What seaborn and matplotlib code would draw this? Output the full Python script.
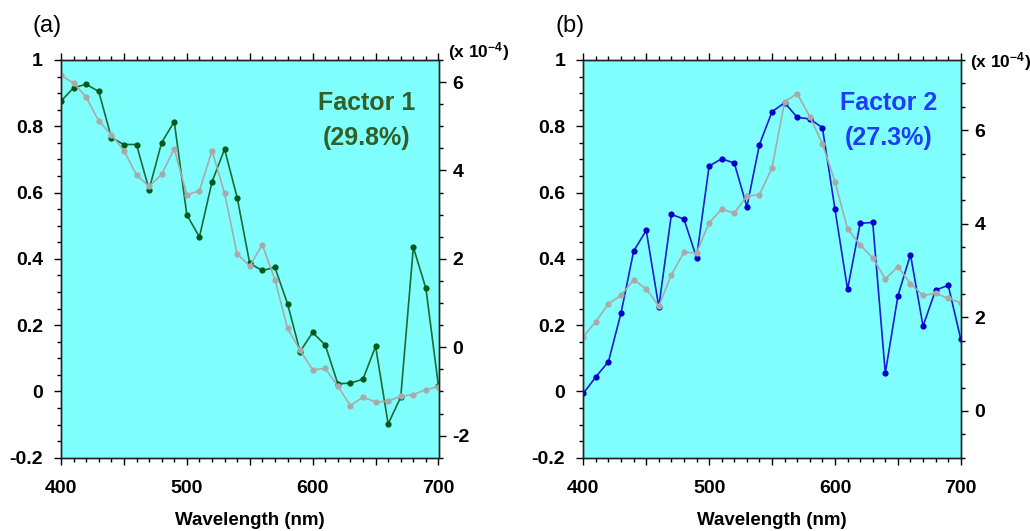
import seaborn as sns
import matplotlib.pyplot as plt
from matplotlib.ticker import MultipleLocator

wavelength = list(range(400, 701, 10))

# factor loadings (left axis)
factor1 = [0.876, 0.916, 0.927, 0.905, 0.766, 0.745, 0.745, 0.609, 0.751, 0.814,
           0.533, 0.466, 0.632, 0.731, 0.585, 0.386, 0.365, 0.374, 0.265, 0.120,
           0.178, 0.140, 0.023, 0.025, 0.037, 0.136, -0.098, -0.017, 0.435, 0.311,
           0.015]
factor2 = [-0.006, 0.044, 0.090, 0.237, 0.423, 0.486, 0.255, 0.534, 0.520, 0.404,
           0.680, 0.702, 0.689, 0.557, 0.745, 0.844, 0.871, 0.827, 0.822, 0.796,
           0.550, 0.308, 0.507, 0.510, 0.055, 0.288, 0.413, 0.197, 0.306, 0.320,
           0.157]

# reference spectra (right axis, x 10^-4)
ref1 = [6.15, 5.98, 5.66, 5.12, 4.81, 4.45, 3.90, 3.64, 3.91, 4.49,
        3.45, 3.54, 4.45, 3.48, 2.11, 1.84, 2.32, 1.53, 0.43, -0.07,
        -0.51, -0.48, -0.88, -1.32, -1.13, -1.24, -1.22, -1.11, -1.07, -0.96,
        -0.89]
ref2 = [1.59, 1.91, 2.29, 2.47, 2.80, 2.61, 2.24, 2.91, 3.39, 3.38,
        4.02, 4.31, 4.23, 4.59, 4.62, 5.20, 6.61, 6.78, 6.29, 5.71,
        4.90, 3.89, 3.55, 3.27, 2.82, 3.08, 2.72, 2.47, 2.51, 2.41,
        2.31]

left_ticks = [-0.2, 0, 0.2, 0.4, 0.6, 0.8, 1]
left_labels = ['-0.2', '0', '0.2', '0.4', '0.6', '0.8', '1']
x_ticks = [400, 450, 500, 550, 600, 650, 700]
x_labels = ['400', '', '500', '', '600', '', '700']

sns.set_style('ticks')
plt.rcParams['font.family'] = ['Liberation Sans', 'DejaVu Sans']
plt.rcParams['font.weight'] = 'bold'
plt.rcParams['axes.labelweight'] = 'bold'
plt.rcParams['text.color'] = 'black'
plt.rcParams['axes.labelcolor'] = 'black'
plt.rcParams['xtick.color'] = 'black'
plt.rcParams['ytick.color'] = 'black'
plt.rcParams['mathtext.fontset'] = 'custom'
plt.rcParams['mathtext.rm'] = 'Liberation Sans:bold'
plt.rcParams['mathtext.default'] = 'rm'

fig = plt.figure(figsize=(10.3, 5.31), dpi=100)


def draw_panel(left, tag, loading, ref, color, mcolor, tcolor, title, pct,
               rlim, rticks, unit_y):
    ax = fig.add_axes([left / 1030, 1 - 457.7 / 531, 377.5 / 1030, 397.7 / 531])
    ax.set_facecolor('#80ffff')
    sns.lineplot(x=wavelength, y=loading, ax=ax, color=color, linewidth=1.2,
                 marker='o', markersize=4.5, markerfacecolor=mcolor,
                 markeredgewidth=0)
    ax.set_xlim(400, 700)
    ax.set_ylim(-0.2, 1.0)
    ax.set_xticks(x_ticks)
    ax.set_xticklabels(x_labels)
    ax.xaxis.set_minor_locator(MultipleLocator(10))
    ax.set_yticks(left_ticks)
    ax.set_yticklabels(left_labels)
    ax.yaxis.set_minor_locator(MultipleLocator(0.05))
    ax.tick_params(axis='x', which='both', top=True, direction='out',
                   labelsize=14, pad=11)
    ax.tick_params(axis='y', which='both', direction='out', labelsize=14,
                   pad=8)
    ax.tick_params(which='major', length=5, width=1)
    ax.tick_params(which='minor', length=3, width=1)
    ax.set_xlabel('Wavelength (nm)', fontsize=13.5, labelpad=11)
    for s in ax.spines.values():
        s.set_color('#222222')
        s.set_linewidth(1)

    ax2 = ax.twinx()
    sns.lineplot(x=wavelength, y=ref, ax=ax2, color='#a9a9a9', linewidth=1.2,
                 marker='o', markersize=4.5, markerfacecolor='#a9a9a9',
                 markeredgewidth=0)
    ax2.set_ylim(*rlim)
    ax2.set_yticks(rticks)
    ax2.set_yticklabels([str(t) for t in rticks])
    ax2.yaxis.set_minor_locator(MultipleLocator(0.5))
    ax2.tick_params(axis='y', which='both', direction='out', labelsize=14,
                    pad=5)
    ax2.tick_params(which='major', length=5, width=1)
    ax2.tick_params(which='minor', length=3, width=1)
    ax2.set_ylabel('')
    for s in ax2.spines.values():
        s.set_color('#222222')
        s.set_linewidth(1)

    ax.text(0.81, 0.892, title, transform=ax.transAxes, ha='center',
            va='center', fontsize=18, color=tcolor, fontweight='bold')
    ax.text(0.81, 0.803, pct, transform=ax.transAxes, ha='center',
            va='center', fontsize=18, color=tcolor, fontweight='bold')

    fig.text((left - 28) / 1030, 1 - 26 / 531, tag, fontsize=17,
             fontweight='normal', ha='left', va='center')
    fig.text((left + 387) / 1030, 1 - unit_y / 531, '(x 10$^{-4}$)',
             fontsize=12.5, ha='left', va='center')


draw_panel(61, '(a)', factor1, ref1, '#1b6b33', '#005a16', '#335f27',
           'Factor 1', '(29.8%)', (-2.5, 6.5), [-2, 0, 2, 4, 6], 52)
draw_panel(583.3, '(b)', factor2, ref2, '#1c1ccc', '#0000cc', '#1f3df5',
           'Factor 2', '(27.3%)', (-1.0, 7.5), [0, 2, 4, 6], 62)

fig.savefig('out.png', dpi=100)
